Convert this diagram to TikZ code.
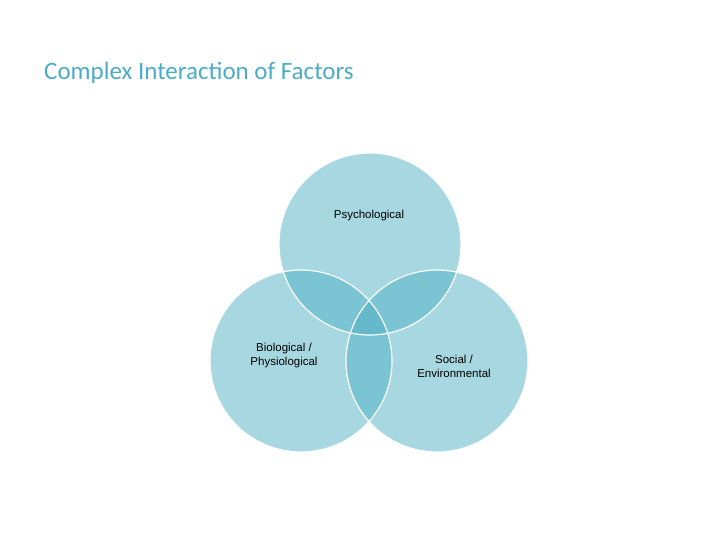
\documentclass[tikz,border=0pt]{standalone}
\usepackage{fontspec}
\setmainfont{Liberation Sans}
\newfontfamily\titlefont{Carlito}
\definecolor{vc}{RGB}{79,176,196}
\definecolor{tc}{RGB}{75,172,198}
\begin{document}
\begin{tikzpicture}[x=1pt,y=-1pt,
  venn/.style={fill=vc,fill opacity=0.5},
  ring/.style={draw=white,line width=1.2pt},
  lbl/.style={font=\fontsize{11.5}{14}\selectfont,align=center,text=black}]
\useasboundingbox (0,0) rectangle (720,540);
\node[anchor=base west,inner sep=0,text=tc,font=\titlefont\fontsize{25}{30}\selectfont] (title) at (44,80) {Complex Interaction of Factors};
\coordinate (p) at (370,244);
\coordinate (b) at (301,361);
\coordinate (s) at (437,361);
\foreach \c in {p,b,s}{\fill[venn] (\c) circle (91);}
\foreach \c in {p,b,s}{\draw[ring] (\c) circle (91);}
\node[lbl] (pl) at (369,216) {Psychological};
\node[lbl] (bl) at (284,356) {Biological /\\Physiological};
\node[lbl] (sl) at (454,366) {Social /\\Environmental};
\end{tikzpicture}
\end{document}
